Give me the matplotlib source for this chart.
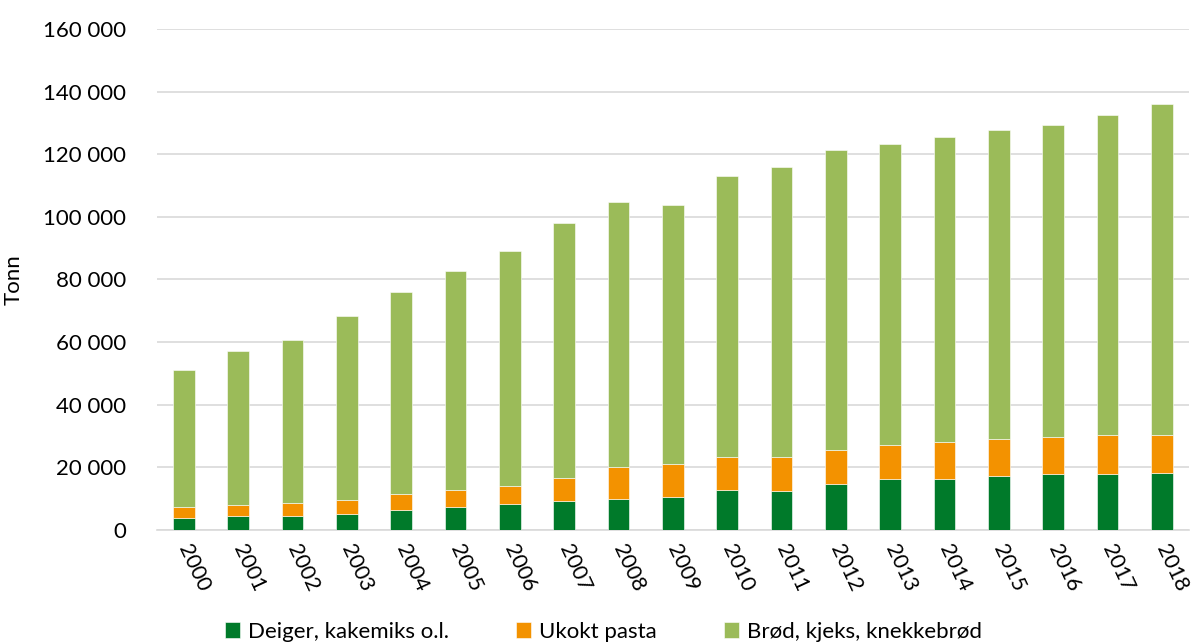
import numpy as np
import matplotlib.pyplot as plt
from matplotlib.ticker import FuncFormatter

plt.rcParams['font.family'] = ['Lato', 'DejaVu Sans']

years = [str(y) for y in range(2000, 2019)]

# tonn per year, stacked bottom to top
deiger = [3900, 4500, 4600, 5200, 6500, 7400, 8300, 9400, 10000, 10600,
          12900, 12500, 14800, 16300, 16400, 17200, 17800, 18000, 18100]
pasta = [3500, 3600, 3900, 4500, 4900, 5500, 5600, 7200, 10000, 10400,
         10500, 10900, 10900, 10700, 11600, 11900, 12000, 12400, 12300]
brod = [43600, 49000, 52100, 58600, 64500, 69700, 75100, 81300, 84900, 82700,
        89500, 92400, 95800, 96400, 97400, 98500, 99400, 102000, 105800]

series = [
    ('Deiger, kakemiks o.l.', deiger, '#007A2A'),
    ('Ukokt pasta', pasta, '#F39200'),
    ('Brød, kjeks, knekkebrød', brod, '#9BBB59'),
]

fig = plt.figure(figsize=(11.95, 6.44), dpi=100)
ax = fig.add_axes([0.131, 0.177, 0.864, 0.778])

x = np.arange(len(years))
bottom = np.zeros(len(years))
for label, vals, color in series:
    ax.bar(x, vals, 0.4, bottom=bottom, color=color, label=label,
           edgecolor='white', linewidth=0.4, zorder=3)
    bottom += np.array(vals)

ax.set_ylim(0, 160000)
ax.set_xlim(-0.5, len(years) - 0.5)
ax.set_yticks(np.arange(0, 160001, 20000))
ax.yaxis.set_major_formatter(FuncFormatter(lambda v, p: f'{int(v):,}'.replace(',', ' ')))
ax.grid(axis='y', color='#D9D9D9', linewidth=1.2, zorder=0)

for s in ['top', 'right', 'left']:
    ax.spines[s].set_visible(False)
ax.spines['bottom'].set_color('#D9D9D9')
ax.spines['bottom'].set_linewidth(1.2)

ax.tick_params(axis='y', length=0, labelsize=16, pad=22)
ax.tick_params(axis='x', length=0, labelsize=15.5, pad=11)
ax.set_xticks(x)
ax.set_xticklabels(years, rotation=-65, rotation_mode='anchor', ha='left', va='center')

ax.set_ylabel('Tonn', fontsize=16, labelpad=14)

fig.legend(loc='center', bbox_to_anchor=(0.505, 0.019), ncol=3, frameon=False,
           fontsize=16, handlelength=0.7, handleheight=0.7, columnspacing=3.0,
           handletextpad=0.35, borderpad=0, borderaxespad=0)

fig.savefig('out.png', dpi=100)
